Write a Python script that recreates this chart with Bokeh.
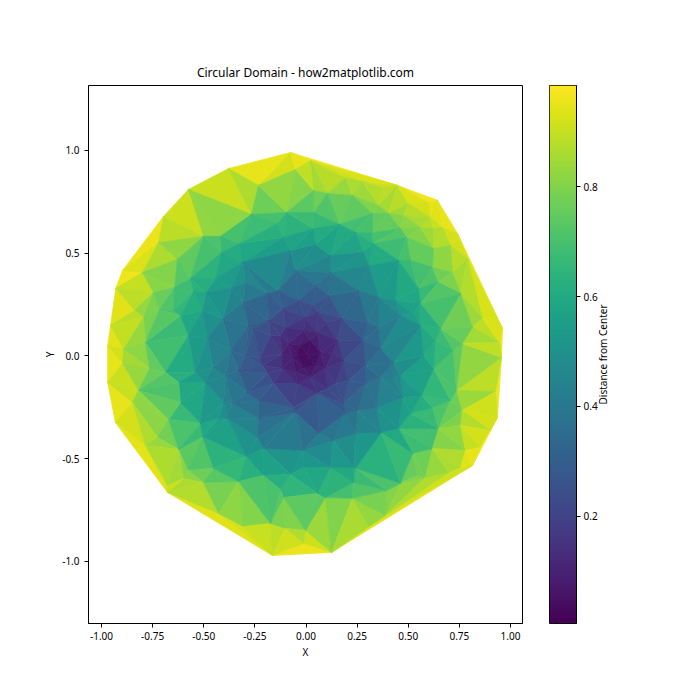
from bokeh.plotting import figure
from bokeh.models import ColumnDataSource, LinearColorMapper, FixedTicker, CustomJSTickFormatter, Range1d
from bokeh.palettes import Viridis256
from bokeh.layouts import row
from bokeh.embed import file_html
from bokeh.resources import INLINE
import numpy as np

TITLE = "Circular Domain - how2matplotlib.com"
CB_LABEL = "Distance from Center"
X_TICKS = [-1.0, -0.75, -0.5, -0.25, 0.0, 0.25, 0.5, 0.75, 1.0]
Y_TICKS = [-1.0, -0.5, 0.0, 0.5, 1.0]
CB_TICKS = [0.2, 0.4, 0.6, 0.8]
VMIN, VMAX = 0.005, 0.984

# vertices, grouped by region
x_rim = [-.97,-.956,-.93,-.897,-.697,-.575,-.379,-.076,.447,.643,.741,.961,.956,.936,.814,.389,.125,-.164,-.428,-.677,-.932,-.97]
y_rim = [.05,.148,.33,.416,.679,.81,.912,.99,.83,.757,.596,.134,-.007,-.3,-.533,-.776,-.956,-.971,-.766,-.664,-.324,-.129]
z_rim = [.97,.967,.99,.989,.973,.993,.988,.993,.943,.993,.951,.97,.956,.983,.973,.868,.964,.985,.877,.948,.987,.979]

x_tl = [-.8,-.721,-.501,-.267,-.232,-.095,-.051,-.628,-.746,-.839,-.795,-.785,-.418,-.325,-.413,-.565,-.643,-.443,-.311,-.188,-.11,-.139,-.076,-.364,-.296,-.408,-.306,-.281,-.575,-.648,-.716,-.614,-.506,-.482,-.369,-.55,-.491,-.051,-.135]
y_tl = [.406,.552,.582,.689,.83,.698,.908,.47,.309,.221,.187,.066,.582,.547,.504,.377,.333,.377,.455,.304,.577,.645,.513,.333,.358,.182,.26,.148,.1,.221,.226,.197,.221,.085,.027,.314,.309,.416,.319]
z_tl = [.897,.908,.768,.739,.862,.704,.909,.784,.807,.868,.817,.788,.717,.636,.652,.679,.724,.582,.551,.358,.587,.66,.519,.493,.464,.447,.402,.318,.584,.685,.751,.645,.552,.489,.37,.633,.58,.419,.346]

x_bl = [-.892,-.897,-.765,-.687,-.623,-.848,-.614,-.672,-.726,-.785,-.623,-.506,-.579,-.501,-.452,-.599,-.677,-.33,-.291,-.384,-.428,-.516,-.403,-.359,-.491,-.54,-.237,-.208,-.076,-.125,-.012,-.012,-.306,-.1,-.002,-.174,-.11,-.012,-.232,-.061,-.208,-.227,-.115,-.33,-.296,-.042,-.159,-.286,-.455,-.394,-.819]
y_bl = [.032,-.036,-.061,-.08,-.129,-.226,-.226,-.309,-.397,-.436,-.455,-.392,-.557,-.616,-.547,-.596,-.63,-.611,-.489,-.304,-.304,-.328,-.226,-.231,-.129,-.08,-.397,-.45,-.577,-.65,-.543,-.46,-.83,-.839,-.849,-.815,-.689,-.912,-.304,-.251,-.582,-.007,-.061,-.071,0.0,-.134,-.134,-.178,-.056,-.095,-.168]
z_bl = [.893,.898,.767,.692,.636,.878,.654,.74,.827,.898,.771,.64,.803,.794,.71,.845,.925,.694,.569,.49,.525,.611,.462,.427,.508,.546,.462,.496,.582,.662,.543,.46,.885,.845,.849,.833,.698,.912,.382,.258,.618,.227,.13,.338,.296,.14,.208,.337,.458,.405,.836]

x_br = [.095,.227,.306,.056,.12,.242,.232,.394,.462,.521,.619,.545,.584,.452,.511,.648,.619,.565,.707,.736,.765,.927,.721,.624,.756,.902,.78,.756,.697,.853,.462,.428,.472,.345,.242,.369,.232,.134,.061,.291,.183,.056,.364,.252,.193,.428,.575]
y_br = [-.689,-.693,-.83,-.669,-.543,-.547,-.616,-.655,-.62,-.474,-.45,-.582,-.591,-.353,-.28,-.353,-.251,-.192,-.217,-.168,-.265,-.173,.027,-.061,-.338,-.363,-.46,-.543,-.567,-.445,-.095,-.105,-.202,-.255,-.377,-.372,-.543,-.411,-.377,-.134,-.022,-.182,-.105,-.265,-.28,-.032,.002]
z_br = [.696,.73,.885,.671,.556,.598,.658,.764,.773,.704,.765,.797,.831,.574,.583,.738,.668,.597,.74,.755,.81,.943,.722,.627,.828,.972,.906,.931,.899,.962,.472,.441,.513,.429,.448,.524,.59,.432,.382,.32,.184,.19,.379,.366,.34,.429,.575]

x_tr = [.022,.193,.105,.037,.227,.276,.374,.355,.403,.501,.599,.609,.477,.325,.164,.242,.325,.462,.491,.56,.623,.667,.623,.707,.79,.33,.452,.281,.12,.037,.037,.046,.306,.511,.619,.55,.716,.648,.756,.438,.56,.526,.633,.814,.863,.765,.946,.355,.257,.462,.56,.658,.364,.301,.178,.355,.12,.046,.11,.032]
y_tr = [.951,.868,.791,.805,.781,.849,.82,.732,.693,.742,.747,.674,.684,.693,.64,.601,.601,.62,.577,.625,.62,.625,.523,.538,.474,.547,.465,.504,.489,.62,.698,.543,.44,.465,.431,.328,.406,.358,.304,.27,.255,.207,.075,.139,.182,.061,.066,.285,.319,.197,.148,.134,.036,.163,.182,.139,.406,.343,.294,.246]
z_tr = [.951,.889,.798,.806,.813,.893,.901,.814,.802,.895,.957,.908,.834,.765,.661,.648,.683,.773,.758,.839,.879,.914,.813,.888,.921,.639,.648,.577,.504,.621,.699,.545,.536,.691,.754,.64,.823,.74,.815,.515,.615,.565,.637,.826,.882,.767,.948,.455,.41,.502,.579,.672,.366,.342,.255,.381,.423,.346,.314,.248]

x_c = [-.115,-.037,.061,-.115,-.125,-.1,-.002,.095,.154,.281,.291,.208,.144,-.051,-.213,-.188,-.174,-.042,-.027,.022,.071,.046,-.012,-.066,-.086,-.012,.056,.13,.095,.022,-.051,.007,.183,.105,-.232,-.257,-.183]
y_c = [.231,.27,.212,.012,.1,.139,.187,.163,.075,.075,-.046,-.119,-.134,-.275,-.046,-.085,.1,.012,.051,.075,.017,-.046,-.056,-.007,.061,.124,.114,.012,-.061,-.105,-.08,.002,-.231,-.158,-.217,.134,.173]
z_c = [.258,.273,.22,.116,.16,.171,.187,.189,.171,.291,.295,.24,.197,.28,.218,.206,.2,.044,.058,.078,.073,.065,.057,.066,.105,.125,.127,.131,.113,.107,.095,.007,.295,.19,.318,.29,.252]

for a, b, c in [(x_rim,y_rim,z_rim),(x_tl,y_tl,z_tl),(x_bl,y_bl,z_bl),(x_br,y_br,z_br),(x_tr,y_tr,z_tr),(x_c,y_c,z_c)]:
    assert len(a) == len(b) == len(c), (len(a), len(b), len(c))

xs = x_rim + x_tl + x_bl + x_br + x_tr + x_c
ys = y_rim + y_tl + y_bl + y_br + y_tr + y_c
zs = z_rim + z_tl + z_bl + z_br + z_tr + z_c


def delaunay(px, py):
    n = len(px)
    P = [(a, b) for a, b in zip(px, py)] + [(-50.0, -50.0), (50.0, -50.0), (0.0, 60.0)]
    tris = [(n, n + 1, n + 2)]

    def in_circle(t, q):
        (ax, ay), (bx, by), (cx, cy) = P[t[0]], P[t[1]], P[t[2]]
        d = 2 * (ax * (by - cy) + bx * (cy - ay) + cx * (ay - by))
        ux = ((ax*ax+ay*ay)*(by-cy) + (bx*bx+by*by)*(cy-ay) + (cx*cx+cy*cy)*(ay-by)) / d
        uy = ((ax*ax+ay*ay)*(cx-bx) + (bx*bx+by*by)*(ax-cx) + (cx*cx+cy*cy)*(bx-ax)) / d
        return (q[0]-ux)**2 + (q[1]-uy)**2 < (ax-ux)**2 + (ay-uy)**2

    for i in range(n):
        bad = [t for t in tris if in_circle(t, P[i])]
        edges = {}
        for t in bad:
            for e in ((t[0], t[1]), (t[1], t[2]), (t[2], t[0])):
                k = tuple(sorted(e))
                edges[k] = edges.get(k, 0) + 1
        tris = [t for t in tris if t not in bad]
        for (a, b), c in edges.items():
            if c == 1:
                tris.append((a, b, i))
    return [t for t in tris if max(t) < n]


tri = delaunay(xs, ys)
src = ColumnDataSource(dict(
    xs=[[xs[i] for i in t] for t in tri],
    ys=[[ys[i] for i in t] for t in tri],
    c=[sum(zs[i] for i in t) / 3 for t in tri],
))
mapper = LinearColorMapper(palette=Viridis256, low=VMIN, high=VMAX)
FONT = "Noto Sans"


def style_axis(ax, size):
    ax.major_label_text_font = FONT
    ax.major_label_text_font_size = size
    ax.major_label_text_color = "black"
    ax.axis_label_text_font = FONT
    ax.axis_label_text_font_size = size
    ax.axis_label_text_font_style = "normal"
    ax.axis_label_text_color = "black"
    ax.axis_line_color = "black"
    ax.major_tick_line_color = "black"
    ax.major_tick_out = 4
    ax.major_tick_in = 0
    ax.minor_tick_out = 0
    ax.minor_tick_in = 0


p = figure(
    frame_width=434, frame_height=538, output_backend="svg", toolbar_location=None,
    x_range=Range1d(-1.0636, 1.0587), y_range=Range1d(-1.302, 1.316),
    min_border_left=88, min_border_right=10, min_border_top=85, min_border_bottom=50,
    title=TITLE,
)
p.title.text_font = FONT
p.title.text_font_size = "12px"
p.title.text_font_style = "normal"
p.title.align = "center"
p.title.text_color = "black"
p.grid.visible = False
p.outline_line_color = "black"
p.outline_line_alpha = 1
p.patches("xs", "ys", source=src,
          fill_color={"field": "c", "transform": mapper},
          line_color={"field": "c", "transform": mapper}, line_width=0.7)
p.xaxis.ticker = FixedTicker(ticks=X_TICKS)
p.yaxis.ticker = FixedTicker(ticks=Y_TICKS)
p.xaxis.formatter = CustomJSTickFormatter(code="return tick.toFixed(2)")
p.yaxis.formatter = CustomJSTickFormatter(code="return tick.toFixed(1)")
p.xaxis.axis_label = "X"
p.yaxis.axis_label = "Y"
style_axis(p.xaxis[0], "10px")
style_axis(p.yaxis[0], "10px")
p.xaxis.major_label_standoff = 4
p.xaxis.axis_label_standoff = 2
p.yaxis.axis_label_standoff = 2
p.yaxis.major_label_orientation = "horizontal"

cb = figure(
    frame_width=27, frame_height=538, output_backend="svg", toolbar_location=None,
    x_range=Range1d(0, 1), y_range=Range1d(VMIN, VMAX),
    min_border_left=17, min_border_right=21, min_border_top=85, min_border_bottom=50,
    y_axis_location="right",
)
cb.grid.visible = False
cb.xaxis.visible = False
cb.outline_line_color = "black"
cb.outline_line_alpha = 1
cb.image(image=[np.linspace(VMIN, VMAX, 256).reshape(256, 1)], x=0, y=VMIN, dw=1, dh=VMAX - VMIN, color_mapper=mapper)
cb.yaxis.ticker = FixedTicker(ticks=CB_TICKS)
cb.yaxis.formatter = CustomJSTickFormatter(code="return tick.toFixed(1)")
style_axis(cb.yaxis[0], "10px")
cb.yaxis.major_label_orientation = "horizontal"
cb.yaxis.major_label_standoff = 3

lab = figure(
    frame_width=4, frame_height=538, output_backend="svg", toolbar_location=None,
    x_range=Range1d(0, 1), y_range=Range1d(0, 1),
    min_border_left=0, min_border_right=0, min_border_top=85, min_border_bottom=50,
    margin=(0, 0, 0, -8),
)
lab.xaxis.visible = False
lab.grid.visible = False
lab.outline_line_color = None
lab.border_fill_color = None
lab.background_fill_color = None
lab.yaxis.ticker = FixedTicker(ticks=[])
lab.yaxis.axis_line_color = None
lab.yaxis.major_tick_line_color = None
lab.yaxis.minor_tick_line_color = None
lab.yaxis.major_label_text_font_size = "0px"
lab.yaxis.major_label_standoff = 0
lab.yaxis.axis_label = CB_LABEL
lab.yaxis.axis_label_text_font = FONT
lab.yaxis.axis_label_text_font_size = "10px"
lab.yaxis.axis_label_text_font_style = "normal"
lab.yaxis.axis_label_text_color = "black"
lab.yaxis.axis_label_standoff = 0

open("out.html", "w").write(file_html(row(p, cb, lab, spacing=0), INLINE))
